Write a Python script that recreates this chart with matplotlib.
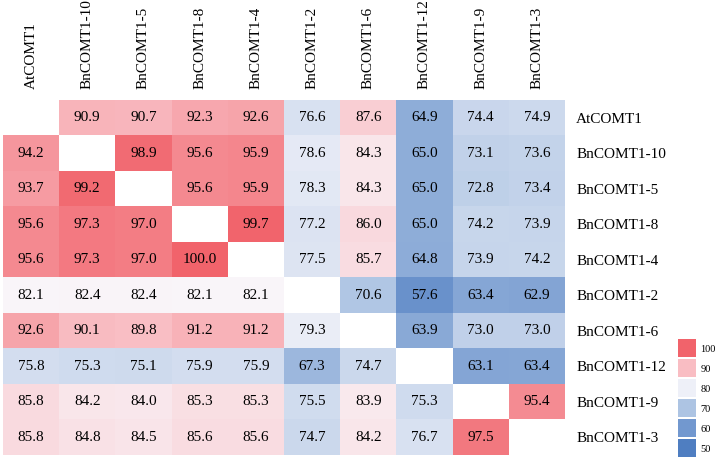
import numpy as np
import matplotlib.pyplot as plt
from matplotlib.colors import LinearSegmentedColormap, Normalize

plt.rcParams['font.family'] = ['Liberation Serif', 'DejaVu Serif']

names = ['AtCOMT1', 'BnCOMT1-10', 'BnCOMT1-5', 'BnCOMT1-8', 'BnCOMT1-4',
         'BnCOMT1-2', 'BnCOMT1-6', 'BnCOMT1-12', 'BnCOMT1-9', 'BnCOMT1-3']

nan = np.nan
row_at = [nan, 90.9, 90.7, 92.3, 92.6, 76.6, 87.6, 64.9, 74.4, 74.9]
row_10 = [94.2, nan, 98.9, 95.6, 95.9, 78.6, 84.3, 65.0, 73.1, 73.6]
row_5 = [93.7, 99.2, nan, 95.6, 95.9, 78.3, 84.3, 65.0, 72.8, 73.4]
row_8 = [95.6, 97.3, 97.0, nan, 99.7, 77.2, 86.0, 65.0, 74.2, 73.9]
row_4 = [95.6, 97.3, 97.0, 100.0, nan, 77.5, 85.7, 64.8, 73.9, 74.2]
row_2 = [82.1, 82.4, 82.4, 82.1, 82.1, nan, 70.6, 57.6, 63.4, 62.9]
row_6 = [92.6, 90.1, 89.8, 91.2, 91.2, 79.3, nan, 63.9, 73.0, 73.0]
row_12 = [75.8, 75.3, 75.1, 75.9, 75.9, 67.3, 74.7, nan, 63.1, 63.4]
row_9 = [85.8, 84.2, 84.0, 85.3, 85.3, 75.5, 83.9, 75.3, nan, 95.4]
row_3 = [85.8, 84.8, 84.5, 85.6, 85.6, 74.7, 84.2, 76.7, 97.5, nan]

legend_vals = [100, 90, 80, 70, 60, 50]

M = np.array([row_at, row_10, row_5, row_8, row_4, row_2, row_6, row_12, row_9, row_3])

# blue -> white -> red, anchors
cmap = LinearSegmentedColormap.from_list('idm', [
    (0.0, '#4f7ec1'), (0.2, '#7298cf'), (0.4, '#adc4e3'),
    (0.6, '#eef0f8'), (0.64, '#f9f7fb'), (0.8, '#f9bdc3'), (1.0, '#f1636b')])
norm = Normalize(50, 100)

W, H = 716, 459
fig = plt.figure(figsize=(W / 100, H / 100), dpi=100)
ax = fig.add_axes([3 / W, (H - 455) / H, (565 - 3) / W, (455 - 100) / H])

ax.imshow(np.ma.masked_invalid(M), cmap=cmap, norm=norm, aspect='auto',
          interpolation='nearest')
for i in range(len(names)):
    for j in range(len(names)):
        if not np.isnan(M[i, j]):
            ax.text(j, i, '%.1f' % M[i, j], ha='center', va='center',
                    fontsize=11, color='black')

ax.set_xticks(range(len(names)))
ax.set_xticklabels(names, rotation=90, fontsize=11)
ax.xaxis.tick_top()
ax.set_yticks(range(len(names)))
ax.set_yticklabels(names, fontsize=11)
ax.yaxis.tick_right()
ax.tick_params(length=0, pad=8)
for s in ax.spines.values():
    s.set_visible(False)

# legend blocks
cax = fig.add_axes([678 / W, 0 / H, 18 / W, (H - 338) / H])
pos = np.arange(len(legend_vals))
cax.bar(0, 0.92, bottom=pos - 0.46, width=1,
        color=[cmap(norm(v)) for v in legend_vals])
cax.set_ylim(len(legend_vals) - 0.5 + 0.05, -0.5)
cax.set_xlim(-0.5, 0.5)
cax.set_yticks(pos)
cax.set_yticklabels([str(v) for v in legend_vals], fontsize=7.5)
cax.yaxis.tick_right()
cax.tick_params(length=0, pad=3)
cax.set_xticks([])
for s in cax.spines.values():
    s.set_visible(False)

plt.savefig('out.png', dpi=100)
